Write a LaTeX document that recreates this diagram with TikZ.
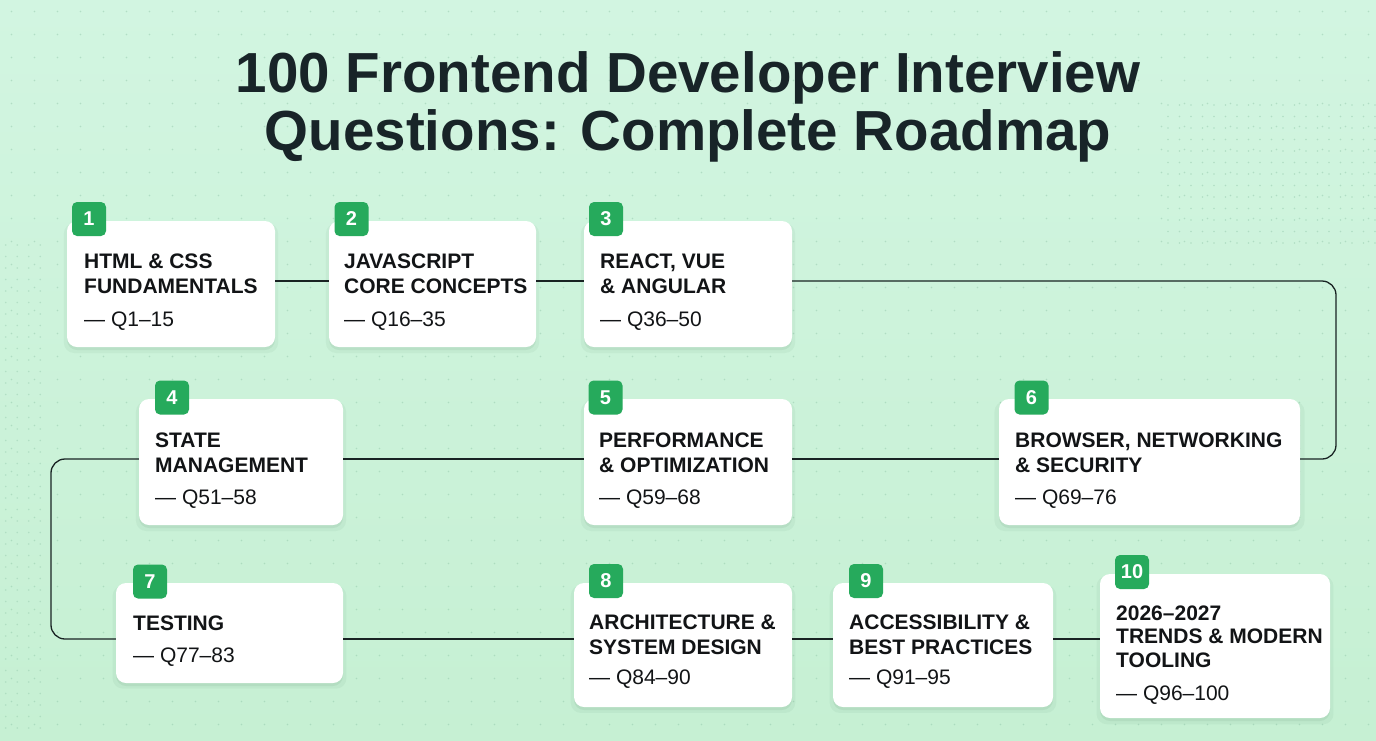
\documentclass[tikz,border=0pt]{standalone}
\usepackage{fontspec}
\setmainfont{Liberation Sans}
\usetikzlibrary{calc,shadows}
\definecolor{bgtop}{RGB}{210,245,225}
\definecolor{bgbot}{RGB}{198,240,211}
\definecolor{badgec}{RGB}{38,170,92}
\definecolor{ink}{RGB}{18,20,22}
\definecolor{titleink}{RGB}{24,36,40}
\definecolor{dotc}{RGB}{140,195,165}
\definecolor{linec}{RGB}{25,35,35}
\definecolor{shc}{RGB}{40,90,60}
\begin{document}
\begin{tikzpicture}[x=1pt,y=-1pt,
  card/.style={fill=white, rounded corners=10pt, inner sep=0,
    general shadow={fill=shc, opacity=0.05, shadow scale=1.03, shadow yshift=-4pt},
    general shadow={fill=shc, opacity=0.07, shadow yshift=-3pt}},
  badgebox/.style={fill=badgec, rounded corners=5pt, minimum width=34pt, minimum height=34pt,
    inner sep=0, text=white, font=\fontsize{20}{20}\selectfont\bfseries},
  head/.style={anchor=base west, align=left, inner sep=0, text=ink,
    font=\fontsize{21}{25}\selectfont\bfseries},
  qtext/.style={anchor=base west, inner sep=0, text=ink, font=\fontsize{21}{25}\selectfont},
  ttl/.style={anchor=base, inner sep=0, text=titleink, font=\fontsize{56.5}{58}\selectfont\bfseries},
  conn/.style={draw=linec, line width=1.3pt, rounded corners=14pt},
]
\useasboundingbox (0,0) rectangle (1376,740);
\fill[top color=bgtop, bottom color=bgbot] (0,0) rectangle (1376,740);
% faint dot grid
\foreach \i in {0,...,59} {
  \foreach \j in {0,...,31} {
    \fill[dotc, opacity=0.45] (11.5+23*\i, 11.5+23*\j) circle (0.9pt);
  }
}
\foreach \i in {0,...,18} {
  \foreach \j in {0,...,12} {
    \fill[dotc, opacity=0.45] (1168+11.5*\i, 105+11.5*\j) circle (0.9pt);
  }
}
\foreach \i in {0,...,3} {
  \foreach \j in {0,...,42} {
    \fill[dotc, opacity=0.4] (5.75+11.5*\i, 245+11.5*\j) circle (0.9pt);
  }
}

% title
\node[ttl] (t1) at (688,92) {100 Frontend Developer Interview};
\node[ttl] (t2) at (688,150) {Questions: Complete Roadmap};

% cards
\node[card, minimum width=208pt, minimum height=126pt] (b1) at (171,284) {};
\node[card, minimum width=207pt, minimum height=126pt] (b2) at (432.5,284) {};
\node[card, minimum width=208pt, minimum height=126pt] (b3) at (688,284) {};
\node[card, minimum width=204pt, minimum height=126pt] (b4) at (241,462) {};
\node[card, minimum width=208pt, minimum height=126pt] (b5) at (688,462) {};
\node[card, minimum width=301pt, minimum height=126pt] (b6) at (1149.5,462) {};
\node[card, minimum width=227pt, minimum height=100pt] (b7) at (229.5,633) {};
\node[card, minimum width=218pt, minimum height=124pt] (b8) at (683,645) {};
\node[card, minimum width=220pt, minimum height=124pt] (b9) at (943,645) {};
\node[card, minimum width=230pt, minimum height=144pt] (b10) at (1215,646) {};

% connectors
\coordinate (r1) at (0,281);
\coordinate (r2) at (0,459);
\coordinate (r3) at (0,639);
\coordinate (rx) at (1336,0);
\coordinate (lx) at (51,0);
\draw[conn] (b1.east|-r1) -- (b2.west|-r1);
\draw[conn] (b2.east|-r1) -- (b3.west|-r1);
\draw[conn] (b3.east|-r1) -- (rx|-r1) -- (rx|-r2) -- (b6.east|-r2);
\draw[conn] (b6.west|-r2) -- (b5.east|-r2);
\draw[conn] (b5.west|-r2) -- (b4.east|-r2);
\draw[conn] (b4.west|-r2) -- (lx|-r2) -- (lx|-r3) -- (b7.west|-r3);
\draw[conn] (b7.east|-r3) -- (b8.west|-r3);
\draw[conn] (b8.east|-r3) -- (b9.west|-r3);
\draw[conn] (b9.east|-r3) -- (b10.west|-r3);

% badges
\node[badgebox] (n1) at (89,219) {1};
\node[badgebox] (n2) at (351.5,219) {2};
\node[badgebox] (n3) at (606,219) {3};
\node[badgebox] (n4) at (172,397.5) {4};
\node[badgebox] (n5) at (605.5,397.5) {5};
\node[badgebox] (n6) at (1031.5,397.5) {6};
\node[badgebox] (n7) at (150,581.5) {7};
\node[badgebox] (n8) at (606,581) {8};
\node[badgebox] (n9) at (866,581) {9};
\node[badgebox] (n10) at (1132,572) {10};

% texts (base anchor = baseline of the last line)
\node[head] (h1) at (84,293) {HTML \& CSS\\FUNDAMENTALS};
\node[qtext] (q1) at (84,326) {— Q1–15};
\node[head] (h2) at (344,293) {JAVASCRIPT\\CORE CONCEPTS};
\node[qtext] (q2) at (344,326) {— Q16–35};
\node[head] (h3) at (600,293) {REACT, VUE\\\& ANGULAR};
\node[qtext] (q3) at (600,326) {— Q36–50};
\node[head] (h4) at (155,472) {STATE\\MANAGEMENT};
\node[qtext] (q4) at (155,504) {— Q51–58};
\node[head] (h5) at (599,472) {PERFORMANCE\\\& OPTIMIZATION};
\node[qtext] (q5) at (599,504) {— Q59–68};
\node[head] (h6) at (1015,472) {BROWSER, NETWORKING\\\& SECURITY};
\node[qtext] (q6) at (1015,504) {— Q69–76};
\node[head] (h7) at (133,630) {TESTING};
\node[qtext] (q7) at (133,662) {— Q77–83};
\node[head] (h8) at (589,654) {ARCHITECTURE \&\\SYSTEM DESIGN};
\node[qtext] (q8) at (589,684) {— Q84–90};
\node[head] (h9) at (849,654) {ACCESSIBILITY \&\\BEST PRACTICES};
\node[qtext] (q9) at (849,684) {— Q91–95};
\node[head, font=\fontsize{21}{23.5}\selectfont\bfseries] (h10) at (1116,667) {2026–2027\\TRENDS \& MODERN\\TOOLING};
\node[qtext] (q10) at (1116,700) {— Q96–100};
\end{tikzpicture}
\end{document}
